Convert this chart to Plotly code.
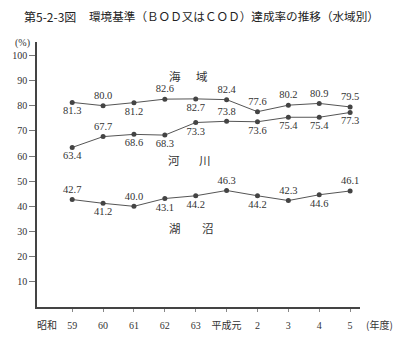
import plotly.graph_objects as go

years = ["59", "60", "61", "62", "63", "平成元", "2", "3", "4", "5"]
sea = [81.3, 80.0, 81.2, 82.6, 82.7, 82.4, 77.6, 80.2, 80.9, 79.5]
river = [63.4, 67.7, 68.6, 68.3, 73.3, 73.8, 73.6, 75.4, 75.4, 77.3]
lake = [42.7, 41.2, 40.0, 43.1, 44.2, 46.3, 44.2, 42.3, 44.6, 46.1]
y_ticks = [10, 20, 30, 40, 50, 60, 70, 80, 90, 100]

sea_pos = ["bottom", "top", "bottom", "top", "bottom", "top", "top", "top", "top", "top"]
river_pos = ["bottom", "top", "bottom", "bottom", "bottom", "top", "bottom", "bottom", "bottom", "bottom"]
lake_pos = ["top", "bottom", "top", "bottom", "bottom", "top", "bottom", "top", "bottom", "top"]

SERIF = "Liberation Serif, DejaVu Serif, Noto Sans CJK JP"
CJK = "Noto Sans CJK JP"
INK = "#333333"

xs = list(range(len(years)))
fig = go.Figure()
for vals, pos in [(sea, sea_pos), (river, river_pos), (lake, lake_pos)]:
    fig.add_trace(go.Scatter(
        x=xs, y=vals, mode="lines+markers+text",
        line=dict(color="#555555", width=1),
        marker=dict(size=5, color="#444444", line=dict(width=0)),
        text=[f"{v:.1f}" for v in vals],
        textposition=[p + " center" for p in pos],
        textfont=dict(family=SERIF, size=10.5, color=INK),
        showlegend=False, cliponaxis=False,
    ))

ann = []
# series names
for ch, xv, yv in [("海", 3.34, 91.6), ("域", 4.21, 91.6),
                   ("河", 3.31, 58.4), ("川", 4.31, 58.4),
                   ("湖", 3.34, 31.3), ("沼", 4.39, 31.3)]:
    ann.append(dict(x=xv, y=yv, xref="x", yref="y", text=ch, showarrow=False,
                    font=dict(family=CJK, size=11.5, color=INK)))
# title
ann.append(dict(x=17, y=343 - 15, xref="paper", yref="paper", text="第5-2-3図",
                showarrow=False, xanchor="left", yanchor="middle",
                font=dict(family=CJK, size=12, color="#222")))
ann.append(dict(x=83, y=343 - 15, xref="paper", yref="paper",
                text="環境基準（ＢＯＤ又はＣＯＤ）達成率の推移（水域別）",
                showarrow=False, xanchor="left", yanchor="middle",
                font=dict(family=CJK, size=11.6, color="#222")))
ann.append(dict(x=17, y=343 - 43, xref="paper", yref="paper", text="(%)",
                showarrow=False, xanchor="center", yanchor="middle",
                font=dict(family=SERIF, size=10, color=INK)))
ann.append(dict(x=42, y=343 - 336, xref="paper", yref="paper", text="昭和",
                showarrow=False, xanchor="center", yanchor="middle",
                font=dict(family=CJK, size=10, color=INK)))
ann.append(dict(x=380, y=343 - 336, xref="paper", yref="paper", text="(年度)",
                showarrow=False, xanchor="center", yanchor="middle",
                font=dict(family=CJK, size=10, color=INK)))

# convert pixel paper coords to paper fraction
W, H = 401, 343
ML, MR, MT, MB = 32, 41, 42, 25
pw, ph = W - ML - MR, H - MT - MB
for a in ann:
    if a["xref"] == "paper":
        a["x"] = (a["x"] - ML) / pw
        a["y"] = (a["y"] - MB) / ph

fig.update_layout(
    width=W, height=H,
    margin=dict(l=ML, r=MR, t=MT, b=MB, pad=0),
    paper_bgcolor="white", plot_bgcolor="white",
    annotations=ann,
    xaxis=dict(range=[-1.14, 9.32], tickvals=xs, ticktext=years,
               showgrid=False, zeroline=False, showline=True,
               linecolor="#444", linewidth=1.5, ticks="outside",
               ticklen=3, tickcolor="#888", tickwidth=1, ticklabelstandoff=5,
               tickfont=dict(family=SERIF, size=10, color=INK)),
    yaxis=dict(range=[0, 105.3], tickvals=y_ticks,
               showgrid=False, zeroline=False, showline=True,
               linecolor="#444", linewidth=1.5, ticks="outside",
               ticklen=6, tickcolor="#777", tickwidth=1,
               tickfont=dict(family=SERIF, size=10, color=INK)),
)

fig.write_html("out.html")
